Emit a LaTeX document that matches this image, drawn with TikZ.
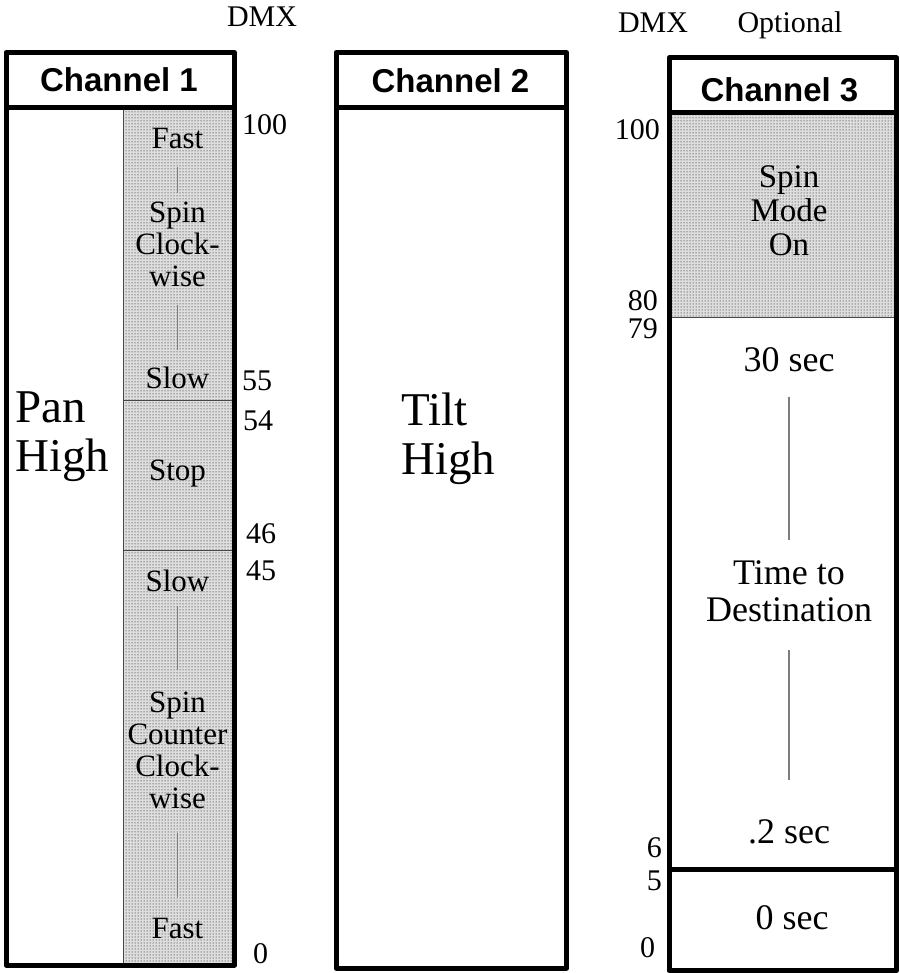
\documentclass[tikz,border=0pt]{standalone}
\usepackage{fontspec}
\setmainfont{Liberation Serif}
\newfontfamily\headfont{Liberation Sans}
\usetikzlibrary{patterns}
\definecolor{chartInk}{RGB}{0,0,0}
\definecolor{chartSplit}{RGB}{70,70,70}
\definecolor{chartTick}{RGB}{125,125,125}
\definecolor{chartStipple}{RGB}{222,222,222}
\tikzset{
  % heavy outline of every channel column and its header
  chframe/.style={draw=chartInk, line width=5pt, line join=round},
  chrule/.style={draw=chartInk, line width=5pt},
  % the dotted (stippled) ranges
  stipple/.style={fill=chartStipple, postaction={pattern=dots, pattern color=black}},
  splitline/.style={draw=chartSplit, line width=0.9pt},
  tickline/.style={draw=chartTick, line width=1.1pt},
  % texts
  chhead/.style={font=\headfont\bfseries\fontsize{33}{33}\selectfont, inner sep=0pt, anchor=base},
  chnum/.style={font=\fontsize{30}{30}\selectfont, inner sep=0pt},
  rangetext/.style={font=\fontsize{31}{32}\selectfont, inner sep=0pt, align=center, anchor=north},
  sectext/.style={font=\fontsize{36}{37}\selectfont, inner sep=0pt, align=center, anchor=north},
  bigtext/.style={font=\fontsize{47}{49}\selectfont, inner sep=0pt, align=left, anchor=north west},
}
\begin{document}
\begin{tikzpicture}[x=1pt, y=-1pt]
\useasboundingbox (0,0) rectangle (899,973);

% ===========================================================================
% stippled ranges
% ===========================================================================
\path[stipple] (123,108) rectangle (234.5,965);
\path[stipple] (669,112.5) rectangle (896.5,317);
\draw[splitline] (123,108) -- (123,965);
\draw[splitline] (123,400) -- (234.5,400);
\draw[splitline] (123,550) -- (234.5,550);
\draw[splitline] (669,317) -- (896.5,317);

% ===========================================================================
% channel frames
% ===========================================================================
\draw[chframe] (6,52.5) rectangle (234.5,965);
\draw[chrule] (6,108) -- (234.5,108);
\draw[chframe] (336,52.5) rectangle (566.5,968);
\draw[chrule] (336,107.5) -- (566.5,107.5);
\draw[chframe] (669,58) rectangle (896.5,970.5);
\draw[chrule] (669,112.5) -- (896.5,112.5);
\draw[chrule] (669,869.5) -- (896.5,869.5);

% --- headers and captions ---
\node[chhead] (head1) at (119,92) {Channel 1};
\node[chhead] (head2) at (450.5,93) {Channel 2};
\node[chhead] (head3) at (779.5,102) {Channel 3};
\node[chnum, anchor=base] (dmx1) at (262,27) {DMX};
\node[chnum, anchor=base] (dmx3) at (653,33) {DMX};
\node[chnum, anchor=base] (opt3) at (790,33) {Optional};

% ===========================================================================
% Channel 1: pan high / spin
% ===========================================================================
\node[bigtext] (pan) at (15,392) {Pan\\High};

\node[rangetext] (fast1) at (177.5,128) {Fast};
\node[rangetext] (cw) at (177.5,202) {Spin\\Clock-\\wise};
\node[rangetext] (slow1) at (177.5,367) {Slow};
\node[rangetext] (stop) at (177.5,460) {Stop};
\node[rangetext] (slow2) at (177.5,570) {Slow};
\node[rangetext] (ccw) at (177.5,692) {Spin\\Counter\\Clock-\\wise};
\node[rangetext] (fast2) at (177.5,918) {Fast};

\draw[tickline, shorten <=18.5pt, shorten >=9pt] (fast1) -- (cw);
\draw[tickline, shorten <=18pt, shorten >=17pt] (cw) -- (slow1);
\draw[tickline, shorten <=14pt, shorten >=22pt] (slow2) -- (ccw);
\draw[tickline, shorten <=24pt, shorten >=21pt] (ccw) -- (fast2);

\node[chnum, anchor=base west] (v100a) at (242,135) {100};
\node[chnum, anchor=base west] (v55) at (242,390) {55};
\node[chnum, anchor=base west] (v54) at (243,430) {54};
\node[chnum, anchor=base west] (v46) at (246,543) {46};
\node[chnum, anchor=base west] (v45) at (246,580) {45};
\node[chnum, anchor=base west] (v0a) at (253,963) {0};

% ===========================================================================
% Channel 2: tilt high
% ===========================================================================
\node[bigtext] (tilt) at (401,393) {Tilt\\High};

% ===========================================================================
% Channel 3: optional spin mode / time to destination
% ===========================================================================
\node[rangetext, font=\fontsize{33}{34}\selectfont] (spin) at (789,165) {Spin\\Mode\\On};

\node[sectext] (sec30) at (789,347) {30 sec};
\node[sectext] (dest) at (789,560) {Time to\\Destination};
\node[sectext] (sec02) at (789,819) {.2 sec};
\node[sectext] (sec0) at (792,905) {0 sec};

\draw[tickline, shorten <=25pt, shorten >=20pt] (sec30) -- (dest);
\draw[tickline, shorten <=28pt, shorten >=39pt] (dest) -- (sec02);

\node[chnum, anchor=base east] (v100c) at (660,140) {100};
\node[chnum, anchor=base east] (v80) at (658,310) {80};
\node[chnum, anchor=base east] (v79) at (658,338) {79};
\node[chnum, anchor=base east] (v6) at (662,857) {6};
\node[chnum, anchor=base east] (v5) at (662,890) {5};
\node[chnum, anchor=base west] (v0c) at (640,957) {0};

\end{tikzpicture}
\end{document}
